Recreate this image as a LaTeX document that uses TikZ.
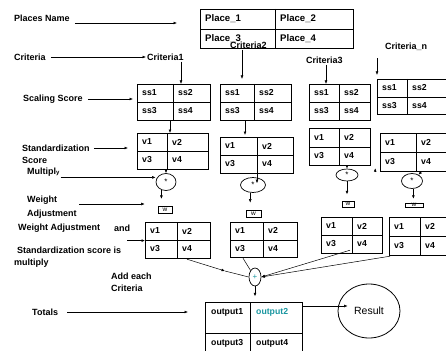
\documentclass[tikz,border=0pt]{standalone}
\usepackage{fontspec}
\setmainfont{Liberation Sans}
\usetikzlibrary{shapes.geometric,arrows.meta,calc}

\definecolor{plusteal}{RGB}{25,150,160}

% 2x2 score grid: name, west x, north y, width, height, left column, text stem
\newcommand{\gridbox}[7]{%
	\node[gridframe, minimum width=#4pt, minimum height=#5pt] (#1) at (#2,#3) {};
	\draw[gridline] ($(#1.north west)+(#6,0)$) -- ($(#1.south west)+(#6,0)$);
	\draw[gridline] (#1.west) -- (#1.east);
	\node[cell] (#1-a) at ($(#1.north west)+(5,#5/4)$) {#71};
	\node[cell] (#1-b) at ($(#1.north west)+(#6+5,#5/4)$) {#72};
	\node[cell] (#1-c) at ($(#1.north west)+(5,3*#5/4)$) {#73};
	\node[cell] (#1-d) at ($(#1.north west)+(#6+5,3*#5/4)$) {#74};
}

\begin{document}
\begin{tikzpicture}[x=1pt, y=-1pt, >={Latex[length=3.5pt,width=2.8pt]},
	every node/.style={font=\bfseries\fontsize{8.7}{10}\selectfont},
	lbl/.style={anchor=west, inner sep=1pt, font=\bfseries\fontsize{9}{10.5}\selectfont},
	gridframe/.style={draw, rectangle, line width=1.2pt, anchor=north west, inner sep=0pt},
	gridline/.style={line width=0.6pt},
	cell/.style={anchor=west, inner sep=0pt},
	mult/.style={draw, ellipse, line width=0.7pt, inner sep=0pt, font=\fontsize{8}{8}\selectfont},
	wbox/.style={draw, rectangle, line width=0.6pt, inner sep=0pt, font=\fontsize{6.5}{6.5}\selectfont},
	conn/.style={->, line width=0.5pt}]

	\useasboundingbox (0,0) rectangle (446,350);
	\clip (0,0) rectangle (446,350);

	% places and criteria
	\gridbox{places}{200}{9}{153}{39}{75}{\fontsize{9.6}{11}\selectfont Place\_}
	\node[lbl] (pname) at (13,18) {Places Name};
	\draw[conn] ($(pname.east)+(4,5)$) -- ($(places.west |- pname.east)+(-23,5)$);

	\node[lbl] (crit) at (13,57) {Criteria};
	\node[lbl] (crit1) at (146,57) {Criteria1};
	\node[lbl] (crit2) at (229,45) {Criteria2};
	\node[lbl] (crit3) at (305,60) {Criteria3};
	\node[lbl] (critn) at (384,47) {Criteria\_n};
	\draw[conn, shorten <=4pt] (crit) -- (crit1);

	% scaling scores
	\gridbox{ss1}{137}{84}{73}{36}{36}{ss}
	\gridbox{ss2}{220}{84}{71}{36}{34}{ss}
	\gridbox{ss3}{309}{84}{61}{36}{30}{ss}
	\gridbox{ss4}{377}{79}{75}{35}{30}{ss}
	\draw[conn] (crit1.south -| 181,0) -- (ss1.north -| 181,0);
	\draw[conn] (crit2.south -| 242,0) -- ($(ss2.north -| 242,0)+(0,-5)$);
	\draw[conn] (crit3.south -| 326,0) -- (ss3.north -| 326,0);
	\draw[conn] ($(critn.south -| 377,0)+(0,6)$) -- ($(ss4.north -| 377,0)+(0,-4)$);

	\node[lbl] (scal) at (22,99) {Scaling Score};
	\draw[conn, shorten <=4pt] (scal.east) -- ($(scal.east -| ss1.west)+(-4,0)$);

	% standardization scores
	\gridbox{v1}{137}{133}{71}{36}{30}{v}
	\gridbox{v2}{220}{137}{73}{36}{37}{v}
	\gridbox{v3}{309}{128}{61}{37}{30}{v}
	\gridbox{v4}{380}{133}{75}{38}{36}{v}
	\draw[conn] (ss1.south -| 170,0) -- (v1.north -| 170,0);
	\draw[conn] (ss2.south -| 245,0) -- ($(v2.north -| 245,0)+(0,-2)$);

	\node[lbl] (stand) at (21,148) {Standardization};
	\node[lbl] (score) at (21,160) {Score};
	\draw[conn, shorten <=3pt] (stand.east) -- ($(stand.east -| v1.west)+(-9,0)$);

	% multiply
	\node[mult, minimum width=20pt, minimum height=17pt] (m1) at (166,182) {*};
	\node[mult, minimum width=25pt, minimum height=15pt] (m2) at (253,185) {*};
	\node[mult, minimum width=22pt, minimum height=12pt] (m3) at (347,175) {*};
	\node[mult, minimum width=21pt, minimum height=15pt] (m4) at (412,181) {*};
	\node[lbl] (mult) at (26,172) {Multipl{\fontsize{6}{6}\selectfont y}};
	\draw[conn] (mult.south east) -- (mult.south east -| m1.west);
	\draw[conn] (v1.south -| m1.north) -- (m1.north);
	\draw[conn] (v2.south -| 257,0) -- ++(0,9);
	\draw[conn] (v3.south -| m3.north) -- (m3.north);
	\draw[conn] ($(v3.south east)+(4,6)$) -- ++(0,-4);
	\draw[conn] (v4.south -| 421,0) -- (m4.45);

	% weights
	\node[wbox, minimum width=14pt, minimum height=7pt] (w1) at (165,209.5) {w};
	\node[wbox, minimum width=15pt, minimum height=7pt] (w2) at (253.5,213.5) {w};
	\node[wbox, minimum width=12pt, minimum height=6pt] (w3) at (348,204) {w};
	\node[wbox, minimum width=18pt, minimum height=4pt] (w4) at (414,205) {w};
	\draw[conn] (m1.240) -- ++(0,9);
	\draw[conn] (m2.250) -- ++(0,10);
	\draw[conn] (m3.south) -- ++(0,13);
	\draw[conn] (m4.280) -- ++(0,10);

	\node[lbl] (wgt) at (26,200) {Weight};
	\node[lbl] (wadj) at (26,214) {Adjustment};
	\draw[conn] ($(wgt.east)+(21,4)$) -- ($(wgt.east -| w1.west)+(-13,4)$);

	% weighted scores
	\gridbox{wv1}{145}{222}{65}{36}{32}{v}
	\gridbox{wv2}{230}{222}{67}{35}{33}{v}
	\gridbox{wv3}{321}{217}{61}{36}{31}{v}
	\gridbox{wv4}{389}{217}{65}{38}{31}{v}

	\node[lbl] (wadj2) at (17,228) {Weight Adjustment};
	\node[lbl] (and) at (113,228) {and};
	\draw[conn] ($(and.east |- wv1.west)+(-4,0)$) -- (wv1.west);
	\node[lbl] (stsc) at (16,250) {Standardization score is};
	\node[lbl] (mulp) at (13,263) {multiply};

	% add each criteria
	\node[mult, minimum width=12pt, minimum height=18pt, text=plusteal] (plus) at (255,277) {+};
	\coordinate (j1) at (225,271);
	\draw[conn] ($(wv1.south west)+(42,0)$) -- (j1);
	\draw[line width=0.5pt] (j1) -- (plus.west);
	\draw[line width=0.5pt] ($(wv2.south west)+(13,0)$) -- (plus.north west);
	\draw[conn] ($(wv3.south west)+(29,-4)$) -- (plus.east);
	\draw[conn] ($(wv4.south west)+(1,0)$) -- (plus.east);

	\node[lbl] (addc) at (110,276) {Add each};
	\node[lbl] (addc2) at (110,288) {Criteria};

	% totals
	\node[gridframe, minimum width=97pt, minimum height=62pt] (out) at (205,302) {};
	\draw[gridline] ($(out.north west)+(45,0)$) -- ($(out.south west)+(45,0)$);
	\draw[gridline] (out.west) -- (out.east);
	\node[cell] (out-a) at ($(out.north west)+(6,10)$) {output1};
	\node[cell, text=plusteal] (out-b) at ($(out.north west)+(51,10)$) {output2};
	\node[cell] (out-c) at ($(out.north west)+(6,41)$) {output3};
	\node[cell] (out-d) at ($(out.north west)+(51,41)$) {output4};
	\draw[conn] (plus.south) -- ++(0,10);

	\node[lbl] (tot) at (31,312) {Totals};
	\draw[conn, shorten <=8pt] (tot.east) -- ($(tot.east -| out.west)+(-17,0)$);

	\node[draw, ellipse, line width=0.8pt, minimum width=62pt, minimum height=54pt,
		font=\fontsize{10.5}{12}\selectfont] (res) at (369,311) {Result};
	\draw[conn] ($(out.north east)+(0,4)$) -- ($(res.west)+(10,-5)$);
\end{tikzpicture}
\end{document}
